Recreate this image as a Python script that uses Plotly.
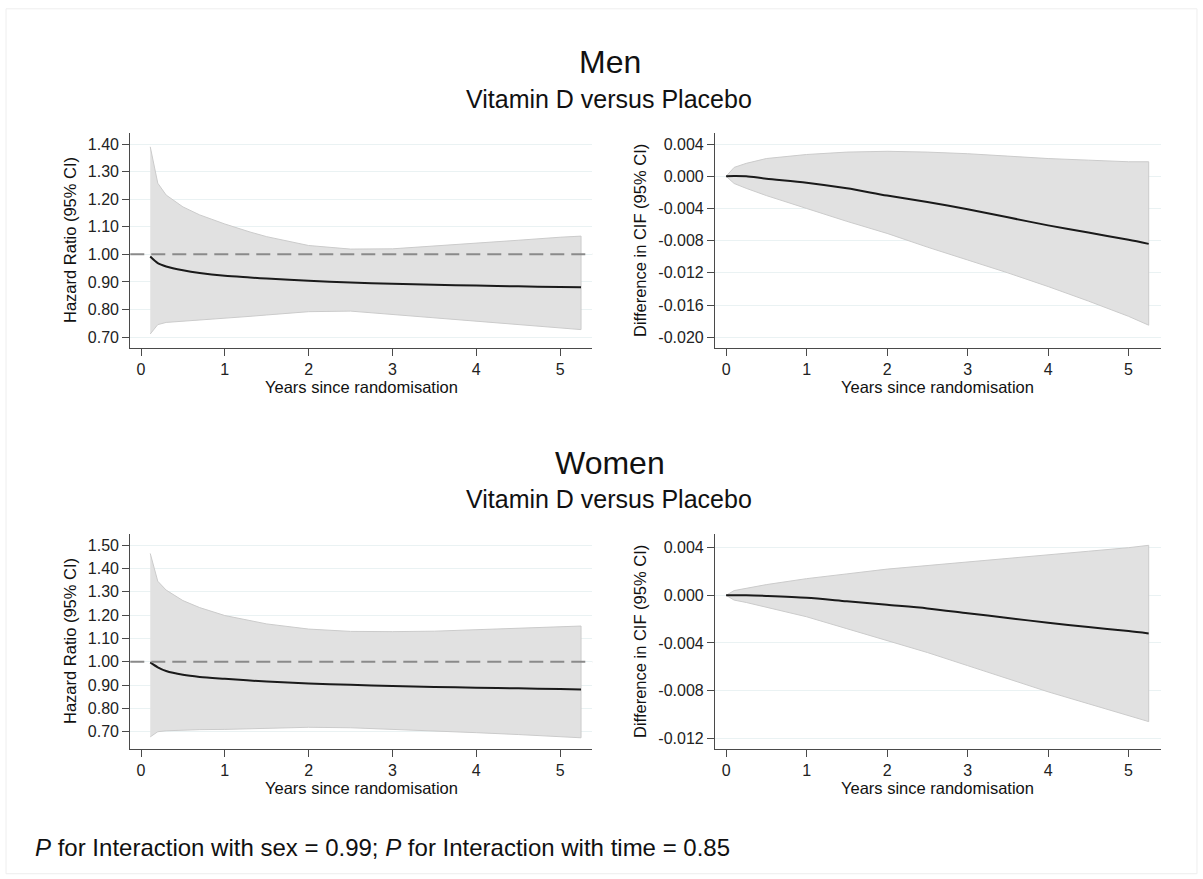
import plotly.graph_objects as go

# ---- Men: hazard ratio over time ----
men_hr_t = [0.11, 0.2, 0.3, 0.5, 0.7, 1.0, 1.3, 1.5, 2.0, 2.5, 3.0, 3.5, 4.0, 4.5, 5.0, 5.25]
men_hr_est = [0.992, 0.968, 0.956, 0.942, 0.932, 0.922, 0.916, 0.912, 0.904, 0.898, 0.893, 0.8895, 0.8865, 0.884, 0.8815, 0.8805]
men_hr_upper = [1.390, 1.258, 1.215, 1.172, 1.143, 1.110, 1.081, 1.064, 1.032, 1.019, 1.020, 1.030, 1.040, 1.051, 1.062, 1.066]
men_hr_lower = [0.711, 0.745, 0.753, 0.757, 0.761, 0.769, 0.775, 0.780, 0.792, 0.794, 0.782, 0.770, 0.757, 0.745, 0.733, 0.727]

# ---- Men: difference in cumulative incidence ----
men_cif_t = [0, 0.1, 0.25, 0.5, 1.0, 1.5, 2.0, 2.5, 3.0, 3.5, 4.0, 4.5, 5.0, 5.25]
men_cif_est = [0.0, 0.00003, 0.0, -0.0003, -0.0008, -0.0015, -0.0024, -0.0032, -0.0041, -0.0051, -0.0061, -0.0070, -0.0079, -0.0084]
men_cif_upper = [0.0, 0.0011, 0.0016, 0.0022, 0.0027, 0.0030, 0.0031, 0.0030, 0.0028, 0.0025, 0.0022, 0.0020, 0.0018, 0.0018]
men_cif_lower = [0.0, -0.0009, -0.0015, -0.0024, -0.0040, -0.0056, -0.0071, -0.0088, -0.0104, -0.0120, -0.0137, -0.0155, -0.0174, -0.0185]

# ---- Women: hazard ratio over time ----
women_hr_t = [0.11, 0.2, 0.3, 0.5, 0.7, 1.0, 1.5, 2.0, 2.5, 3.0, 3.5, 4.0, 4.5, 5.0, 5.25]
women_hr_est = [0.997, 0.976, 0.960, 0.944, 0.935, 0.927, 0.915, 0.907, 0.901, 0.896, 0.892, 0.889, 0.886, 0.883, 0.8815]
women_hr_upper = [1.464, 1.345, 1.307, 1.262, 1.232, 1.198, 1.162, 1.140, 1.130, 1.129, 1.131, 1.136, 1.142, 1.150, 1.153]
women_hr_lower = [0.678, 0.700, 0.704, 0.707, 0.709, 0.710, 0.715, 0.719, 0.717, 0.711, 0.704, 0.696, 0.688, 0.679, 0.674]

# ---- Women: difference in cumulative incidence ----
women_cif_t = [0, 0.1, 0.25, 0.5, 1.0, 1.5, 2.0, 2.5, 3.0, 3.5, 4.0, 4.5, 5.0, 5.25]
women_cif_est = [0.0, 0.0, 0.0, -0.00005, -0.0002, -0.0005, -0.0008, -0.0011, -0.0015, -0.0019, -0.0023, -0.00266, -0.0030, -0.0032]
women_cif_upper = [0.0, 0.0004, 0.0006, 0.0009, 0.0014, 0.0018, 0.0022, 0.0025, 0.0028, 0.0031, 0.0034, 0.0037, 0.0040, 0.0042]
women_cif_lower = [0.0, -0.0004, -0.0006, -0.0010, -0.0018, -0.0028, -0.0038, -0.0048, -0.0059, -0.0070, -0.0081, -0.0091, -0.0101, -0.0106]

# ---- Tick values and labels ----
x_ticks = [0, 1, 2, 3, 4, 5]
men_hr_ticks = [0.70, 0.80, 0.90, 1.00, 1.10, 1.20, 1.30, 1.40]
men_hr_labels = ["0.70", "0.80", "0.90", "1.00", "1.10", "1.20", "1.30", "1.40"]
women_hr_ticks = [0.70, 0.80, 0.90, 1.00, 1.10, 1.20, 1.30, 1.40, 1.50]
women_hr_labels = ["0.70", "0.80", "0.90", "1.00", "1.10", "1.20", "1.30", "1.40", "1.50"]
men_cif_ticks = [-0.020, -0.016, -0.012, -0.008, -0.004, 0.000, 0.004]
men_cif_labels = ["-0.020", "-0.016", "-0.012", "-0.008", "-0.004", "0.000", "0.004"]
women_cif_ticks = [-0.012, -0.008, -0.004, 0.000, 0.004]
women_cif_labels = ["-0.012", "-0.008", "-0.004", "0.000", "0.004"]

hr_null = 1.0

FONT = "Liberation Sans, Arial, Helvetica, sans-serif"
BAND_FILL = "#E1E1E1"
BAND_EDGE = "#CBCBCB"
AXIS_COL = "#4a4a4a"
GRID_COL = "#EAF2F3"

fig = go.Figure()


def add_panel(t, est, lo, hi, xa, ya):
    # confidence band as a closed polygon, then the point estimate on top
    fig.add_trace(go.Scatter(
        x=list(t) + list(t)[::-1], y=list(lo) + list(hi)[::-1],
        fill="toself", fillcolor=BAND_FILL, mode="lines",
        line=dict(color=BAND_EDGE, width=1), xaxis=xa, yaxis=ya,
        hoverinfo="skip", showlegend=False))
    fig.add_trace(go.Scatter(
        x=t, y=est, mode="lines",
        line=dict(color="#1a1a1a", width=2, shape="spline", smoothing=0.8),
        xaxis=xa, yaxis=ya, showlegend=False))


add_panel(men_hr_t, men_hr_est, men_hr_lower, men_hr_upper, "x", "y")
add_panel(men_cif_t, men_cif_est, men_cif_lower, men_cif_upper, "x2", "y2")
add_panel(women_hr_t, women_hr_est, women_hr_lower, women_hr_upper, "x3", "y3")
add_panel(women_cif_t, women_cif_est, women_cif_lower, women_cif_upper, "x4", "y4")

left_dom = [0.1083, 0.4924]
right_dom = [0.5944, 0.9649]
top_dom = [0.6044, 0.8483]
bot_dom = [0.1479, 0.3921]

axis_common = dict(showline=True, linecolor=AXIS_COL, linewidth=1.3,
                   ticks="outside", ticklen=7, tickwidth=1.3, tickcolor=AXIS_COL,
                   zeroline=False, mirror=False,
                   tickfont=dict(family=FONT, size=16, color="#222222"))


def xaxis(dom, anchor, rng):
    return dict(domain=dom, anchor=anchor, range=rng, tickvals=x_ticks,
                showgrid=False, **axis_common)


def yaxis(dom, anchor, rng, vals, labels):
    return dict(domain=dom, anchor=anchor, range=rng, tickvals=vals, ticktext=labels,
                showgrid=True, gridcolor=GRID_COL, gridwidth=1, **axis_common)


fig.update_layout(
    width=1203, height=879,
    margin=dict(l=0, r=0, t=0, b=0),
    paper_bgcolor="white", plot_bgcolor="white",
    font=dict(family=FONT, color="#111111"),
    showlegend=False,
    xaxis=xaxis(left_dom, "y", [-0.128, 5.385]),
    yaxis=yaxis(top_dom, "x", [0.6612, 1.4388], men_hr_ticks, men_hr_labels),
    xaxis2=xaxis(right_dom, "y2", [-0.137, 5.40]),
    yaxis2=yaxis(top_dom, "x2", [-0.0213, 0.00533], men_cif_ticks, men_cif_labels),
    xaxis3=xaxis(left_dom, "y3", [-0.128, 5.385]),
    yaxis3=yaxis(bot_dom, "x3", [0.626, 1.546], women_hr_ticks, women_hr_labels),
    xaxis4=xaxis(right_dom, "y4", [-0.137, 5.40]),
    yaxis4=yaxis(bot_dom, "x4", [-0.0129, 0.00512], women_cif_ticks, women_cif_labels),
)

# dashed line of no effect on the hazard-ratio panels
for yref in ("y", "y3"):
    xref = "x" if yref == "y" else "x3"
    fig.add_shape(type="line", xref=f"{xref} domain", yref=yref,
                  x0=0, x1=1, y0=hr_null, y1=hr_null,
                  line=dict(color="#8a8a8a", width=2, dash="14px,7px"), layer="above")

# faint outer frame
fig.add_shape(type="rect", xref="paper", yref="paper", x0=0.005, x1=0.995, y0=0.006, y1=0.99,
              line=dict(color="#eeeeee", width=1), layer="below")

ann = []


def text(x, y, s, size, angle=0, xanchor="center"):
    ann.append(dict(x=x, y=y, xref="paper", yref="paper", text=s, showarrow=False,
                    xanchor=xanchor, yanchor="middle", textangle=angle,
                    font=dict(family=FONT, size=size, color="#111111")))


text(0.5067, 0.9295, "Men", 32)
text(0.5062, 0.8874, "Vitamin D versus Placebo", 25)
text(0.5067, 0.4733, "Women", 32)
text(0.5062, 0.4323, "Vitamin D versus Placebo", 25)

for yc in (0.5596, 0.1035):
    text(0.3001, yc, "Years since randomisation", 16.5)
    text(0.7797, yc, "Years since randomisation", 16.5)

for yc in (0.727, 0.2708):
    text(0.0582, yc, "Hazard Ratio (95% CI)", 16.5, angle=-90)
    text(0.532, yc, "Difference in CIF (95% CI)", 16.5, angle=-90)

text(0.0274, 0.0353,
     "<i>P</i> for Interaction with sex = 0.99; <i>P</i> for Interaction with time = 0.85",
     24, xanchor="left")

fig.update_layout(annotations=ann)

fig.write_html("out.html")
